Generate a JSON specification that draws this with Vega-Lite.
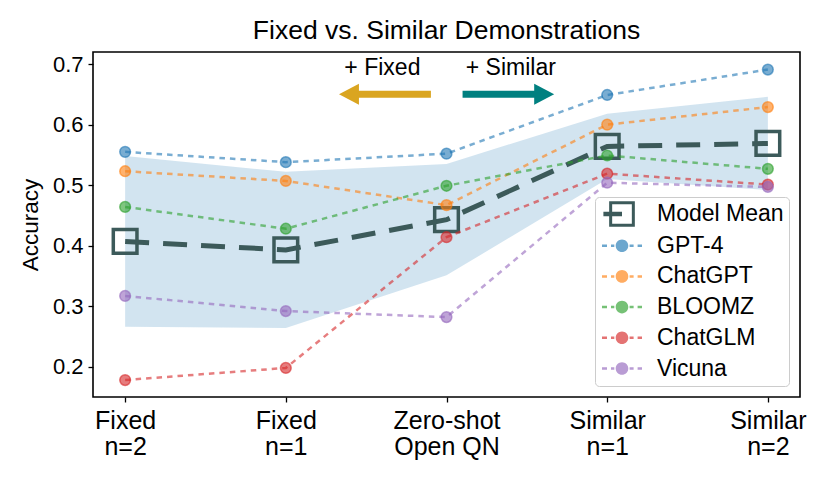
{
  "$schema": "https://vega.github.io/schema/vega-lite/v6.json",
  "width": 707,
  "height": 345,
  "autosize": "none",
  "padding": {"left": 93, "top": 52, "right": 30, "bottom": 88},
  "background": "white",
  "title": {
    "text": "Fixed vs. Similar Demonstrations",
    "fontSize": 26.5,
    "fontWeight": "normal",
    "anchor": "middle",
    "color": "black",
    "offset": 8
  },
  "datasets": {
    "models": [
      {"setting": "Fixed|n=2", "model": "GPT-4", "acc": 0.555},
      {"setting": "Fixed|n=1", "model": "GPT-4", "acc": 0.538},
      {"setting": "Zero-shot|Open QN", "model": "GPT-4", "acc": 0.552},
      {"setting": "Similar|n=1", "model": "GPT-4", "acc": 0.649},
      {"setting": "Similar|n=2", "model": "GPT-4", "acc": 0.691},
      {"setting": "Fixed|n=2", "model": "ChatGPT", "acc": 0.523},
      {"setting": "Fixed|n=1", "model": "ChatGPT", "acc": 0.507},
      {"setting": "Zero-shot|Open QN", "model": "ChatGPT", "acc": 0.467},
      {"setting": "Similar|n=1", "model": "ChatGPT", "acc": 0.600},
      {"setting": "Similar|n=2", "model": "ChatGPT", "acc": 0.629},
      {"setting": "Fixed|n=2", "model": "BLOOMZ", "acc": 0.464},
      {"setting": "Fixed|n=1", "model": "BLOOMZ", "acc": 0.428},
      {"setting": "Zero-shot|Open QN", "model": "BLOOMZ", "acc": 0.499},
      {"setting": "Similar|n=1", "model": "BLOOMZ", "acc": 0.549},
      {"setting": "Similar|n=2", "model": "BLOOMZ", "acc": 0.527},
      {"setting": "Fixed|n=2", "model": "ChatGLM", "acc": 0.178},
      {"setting": "Fixed|n=1", "model": "ChatGLM", "acc": 0.198},
      {"setting": "Zero-shot|Open QN", "model": "ChatGLM", "acc": 0.414},
      {"setting": "Similar|n=1", "model": "ChatGLM", "acc": 0.519},
      {"setting": "Similar|n=2", "model": "ChatGLM", "acc": 0.501},
      {"setting": "Fixed|n=2", "model": "Vicuna", "acc": 0.317},
      {"setting": "Fixed|n=1", "model": "Vicuna", "acc": 0.292},
      {"setting": "Zero-shot|Open QN", "model": "Vicuna", "acc": 0.282},
      {"setting": "Similar|n=1", "model": "Vicuna", "acc": 0.504},
      {"setting": "Similar|n=2", "model": "Vicuna", "acc": 0.497}
    ],
    "mean": [
      {"setting": "Fixed|n=2", "mean": 0.407, "lo": 0.266, "hi": 0.548},
      {"setting": "Fixed|n=1", "mean": 0.393, "lo": 0.264, "hi": 0.522},
      {"setting": "Zero-shot|Open QN", "mean": 0.443, "lo": 0.351, "hi": 0.535},
      {"setting": "Similar|n=1", "mean": 0.564, "lo": 0.510, "hi": 0.618},
      {"setting": "Similar|n=2", "mean": 0.569, "lo": 0.492, "hi": 0.646}
    ],
    "arrows": [
      {"dir": "Fixed", "label": "+ Fixed", "tail": 1.903, "base": 1.449, "tip": 1.331, "y": 0.650, "tx": 1.601, "ty": 0.682},
      {"dir": "Similar", "label": "+ Similar", "tail": 2.100, "base": 2.552, "tip": 2.670, "y": 0.650, "tx": 2.400, "ty": 0.682}
    ]
  },
  "layer": [
    {
      "encoding": {
        "x": {
          "field": "setting",
          "type": "nominal",
          "scale": {
            "type": "point",
            "padding": 0.2,
            "domain": ["Fixed|n=2", "Fixed|n=1", "Zero-shot|Open QN", "Similar|n=1", "Similar|n=2"]
          },
          "axis": {
            "title": null,
            "labelAngle": 0,
            "labelExpr": "split(datum.label, '|')",
            "labelFontSize": 25,
            "labelLineHeight": 26,
            "labelPadding": 6,
            "labelColor": "black",
            "tickColor": "black",
            "tickSize": 5,
            "tickWidth": 1.3,
            "domain": false,
            "grid": false
          }
        }
      },
      "layer": [
        {
          "data": {"name": "mean"},
          "mark": {"type": "area", "color": "#1f77b4", "opacity": 0.2},
          "encoding": {
            "y": {
              "field": "lo",
              "type": "quantitative",
              "scale": {"domain": [0.15, 0.72], "nice": false, "zero": false},
              "axis": {
                "title": "Accuracy",
                "values": [0.2, 0.3, 0.4, 0.5, 0.6, 0.7],
                "format": ".1f",
                "grid": false,
                "domain": false,
                "tickColor": "black",
                "tickSize": 5,
                "tickWidth": 1.3,
                "labelFontSize": 22,
                "labelColor": "black",
                "labelPadding": 5,
                "titleFontSize": 22.5,
                "titleFontWeight": "normal",
                "titleColor": "black",
                "titlePadding": 10
              }
            },
            "y2": {"field": "hi"}
          }
        },
        {
          "data": {"name": "mean"},
          "mark": {"type": "line", "color": "#3c5a5a", "strokeWidth": 5, "strokeDash": [24, 14]},
          "encoding": {
            "y": {"field": "mean", "type": "quantitative", "scale": {"domain": [0.15, 0.72], "nice": false, "zero": false}}
          }
        },
        {
          "data": {"name": "mean"},
          "mark": {"type": "point", "shape": "square", "filled": false, "color": "#3c5a5a", "size": 560, "strokeWidth": 3.5, "opacity": 1},
          "encoding": {
            "y": {"field": "mean", "type": "quantitative", "scale": {"domain": [0.15, 0.72], "nice": false, "zero": false}}
          }
        },
        {
          "data": {"name": "models"},
          "mark": {"type": "line", "strokeWidth": 2.5, "strokeDash": [5.5, 5], "opacity": 0.6},
          "encoding": {
            "y": {"field": "acc", "type": "quantitative", "scale": {"domain": [0.15, 0.72], "nice": false, "zero": false}},
            "color": {
              "field": "model",
              "type": "nominal",
              "scale": {
                "domain": ["GPT-4", "ChatGPT", "BLOOMZ", "ChatGLM", "Vicuna"],
                "range": ["#1f77b4", "#ff7f0e", "#2ca02c", "#d62728", "#9467bd"]
              },
              "legend": null
            }
          }
        },
        {
          "data": {"name": "models"},
          "mark": {"type": "point", "shape": "circle", "filled": true, "size": 115, "strokeWidth": 1.5, "fillOpacity": 0.6, "strokeOpacity": 0.6},
          "encoding": {
            "y": {"field": "acc", "type": "quantitative", "scale": {"domain": [0.15, 0.72], "nice": false, "zero": false}},
            "fill": {
              "field": "model",
              "type": "nominal",
              "scale": {
                "domain": ["GPT-4", "ChatGPT", "BLOOMZ", "ChatGLM", "Vicuna"],
                "range": ["#1f77b4", "#ff7f0e", "#2ca02c", "#d62728", "#9467bd"]
              },
              "legend": null
            },
            "stroke": {
              "field": "model",
              "type": "nominal",
              "scale": {
                "domain": ["GPT-4", "ChatGPT", "BLOOMZ", "ChatGLM", "Vicuna"],
                "range": ["#1f77b4", "#ff7f0e", "#2ca02c", "#d62728", "#9467bd"]
              },
              "legend": null
            }
          }
        }
      ]
    },
    {
      "data": {"name": "arrows"},
      "layer": [
        {
          "mark": {"type": "rule", "strokeWidth": 7, "strokeCap": "butt"},
          "encoding": {
            "x": {"field": "tail", "type": "quantitative", "scale": {"domain": [-0.2, 4.2], "nice": false, "zero": false}, "axis": null},
            "x2": {"field": "base"},
            "y": {"field": "y", "type": "quantitative", "scale": {"domain": [0.15, 0.72], "nice": false, "zero": false}},
            "color": {"field": "dir", "type": "nominal", "scale": {"domain": ["Fixed", "Similar"], "range": ["#daa520", "#008080"]}, "legend": null}
          }
        },
        {
          "mark": {"type": "point", "filled": true, "size": 441, "opacity": 1, "strokeWidth": 0},
          "encoding": {
            "x": {"field": "tip", "type": "quantitative", "scale": {"domain": [-0.2, 4.2], "nice": false, "zero": false}, "axis": null},
            "y": {"field": "y", "type": "quantitative", "scale": {"domain": [0.15, 0.72], "nice": false, "zero": false}},
            "color": {"field": "dir", "type": "nominal", "scale": {"domain": ["Fixed", "Similar"], "range": ["#daa520", "#008080"]}, "legend": null},
            "shape": {"field": "dir", "type": "nominal", "scale": {"domain": ["Fixed", "Similar"], "range": ["M0,0L1.9,-1L1.9,1Z", "M0,0L-1.9,-1L-1.9,1Z"]}, "legend": null}
          }
        },
        {
          "mark": {"type": "text", "fontSize": 23, "baseline": "alphabetic", "align": "center", "color": "black"},
          "encoding": {
            "x": {"field": "tx", "type": "quantitative", "scale": {"domain": [-0.2, 4.2], "nice": false, "zero": false}, "axis": null},
            "y": {"field": "ty", "type": "quantitative", "scale": {"domain": [0.15, 0.72], "nice": false, "zero": false}},
            "text": {"field": "label"}
          }
        }
      ]
    },
    {
      "data": {"name": "models"},
      "transform": [{"filter": "false"}],
      "mark": {"type": "point", "filled": true, "size": 576, "opacity": 1, "strokeWidth": 0},
      "encoding": {
        "x": {"field": "acc", "type": "quantitative", "axis": null},
        "y": {"field": "acc", "type": "quantitative", "scale": {"domain": [0.15, 0.72], "nice": false, "zero": false}},
        "color": {
          "field": "model",
          "type": "nominal",
          "scale": {
            "domain": ["Model Mean", "GPT-4", "ChatGPT", "BLOOMZ", "ChatGLM", "Vicuna"],
            "range": ["#3c5a5a", "#6da7ce", "#ffac62", "#76c176", "#e47373", "#b99cd4"]
          },
          "legend": {
            "title": null,
            "orient": "none",
            "legendX": 502,
            "legendY": 145,
            "padding": 5,
            "symbolSize": 576,
            "symbolOffset": 10,
            "labelOffset": 23,
            "rowPadding": 6.7,
            "symbolStrokeWidth": 0,
            "labelFontSize": 23,
            "labelColor": "black",
            "labelLimit": 300,
            "fillColor": "rgba(255,255,255,0.8)",
            "strokeColor": "#cccccc",
            "cornerRadius": 4
          }
        },
        "shape": {
          "field": "model",
          "type": "nominal",
          "scale": {
            "domain": ["Model Mean", "GPT-4", "ChatGPT", "BLOOMZ", "ChatGLM", "Vicuna"],
            "range": [
              "M-1.07,-1.07L1.07,-1.07L1.07,1.07L-1.07,1.07Z M-0.82,-0.82L-0.82,0.82L0.82,0.82L0.82,-0.82Z M-1.55,-0.19L0,-0.19L0,0.19L-1.55,0.19Z",
              "M-1.667,-0.104L-1.25,-0.104L-1.25,0.104L-1.667,0.104Z M-0.917,-0.104L-0.64,-0.104L-0.64,0.104L-0.917,0.104Z M0.633,-0.104L0.967,-0.104L0.967,0.104L0.633,0.104Z M1.3,-0.104L1.667,-0.104L1.667,0.104L1.3,0.104Z M-0.525,0A0.525,0.525 0 1,0 0.525,0A0.525,0.525 0 1,0 -0.525,0Z",
              "M-1.667,-0.104L-1.25,-0.104L-1.25,0.104L-1.667,0.104Z M-0.917,-0.104L-0.64,-0.104L-0.64,0.104L-0.917,0.104Z M0.633,-0.104L0.967,-0.104L0.967,0.104L0.633,0.104Z M1.3,-0.104L1.667,-0.104L1.667,0.104L1.3,0.104Z M-0.525,0A0.525,0.525 0 1,0 0.525,0A0.525,0.525 0 1,0 -0.525,0Z",
              "M-1.667,-0.104L-1.25,-0.104L-1.25,0.104L-1.667,0.104Z M-0.917,-0.104L-0.64,-0.104L-0.64,0.104L-0.917,0.104Z M0.633,-0.104L0.967,-0.104L0.967,0.104L0.633,0.104Z M1.3,-0.104L1.667,-0.104L1.667,0.104L1.3,0.104Z M-0.525,0A0.525,0.525 0 1,0 0.525,0A0.525,0.525 0 1,0 -0.525,0Z",
              "M-1.667,-0.104L-1.25,-0.104L-1.25,0.104L-1.667,0.104Z M-0.917,-0.104L-0.64,-0.104L-0.64,0.104L-0.917,0.104Z M0.633,-0.104L0.967,-0.104L0.967,0.104L0.633,0.104Z M1.3,-0.104L1.667,-0.104L1.667,0.104L1.3,0.104Z M-0.525,0A0.525,0.525 0 1,0 0.525,0A0.525,0.525 0 1,0 -0.525,0Z",
              "M-1.667,-0.104L-1.25,-0.104L-1.25,0.104L-1.667,0.104Z M-0.917,-0.104L-0.64,-0.104L-0.64,0.104L-0.917,0.104Z M0.633,-0.104L0.967,-0.104L0.967,0.104L0.633,0.104Z M1.3,-0.104L1.667,-0.104L1.667,0.104L1.3,0.104Z M-0.525,0A0.525,0.525 0 1,0 0.525,0A0.525,0.525 0 1,0 -0.525,0Z"
            ]
          },
          "legend": {"title": null}
        }
      }
    }
  ],
  "resolve": {"scale": {"x": "independent", "color": "independent", "shape": "independent"}},
  "config": {
    "font": "Liberation Sans",
    "view": {"stroke": "black", "strokeWidth": 1.6},
    "legend": {"labelFont": "Liberation Sans"},
    "axis": {"labelFont": "Liberation Sans", "titleFont": "Liberation Sans"}
  }
}
